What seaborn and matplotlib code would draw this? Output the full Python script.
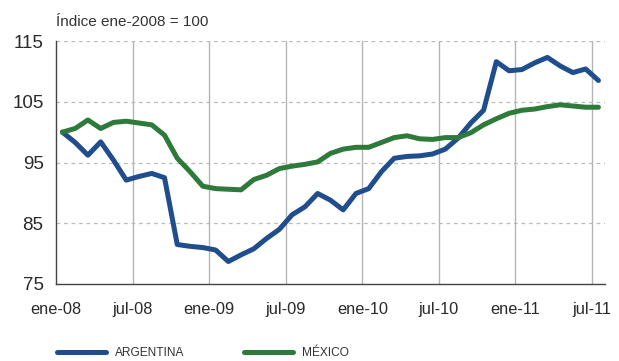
import pandas as pd
import numpy as np
import matplotlib
matplotlib.use("Agg")
import matplotlib.pyplot as plt
import seaborn as sns

# monthly index, ene-2008 = 100 (ene-08 .. jul-11)
argentina = [100.0, 98.3, 96.2, 98.4, 95.4, 92.1, 92.7, 93.2, 92.5, 81.5, 81.2, 81.0,
             80.6, 78.7, 79.8, 80.8, 82.5, 84.0, 86.4, 87.7, 89.9, 88.8, 87.2, 89.9,
             90.7, 93.5, 95.7, 96.0, 96.1, 96.4, 97.2, 99.0, 101.5, 103.6, 111.6, 110.1,
             110.3, 111.4, 112.3, 110.9, 109.8, 110.4, 108.5]
mexico = [100.0, 100.6, 102.0, 100.6, 101.6, 101.8, 101.5, 101.2, 99.5, 95.7, 93.5, 91.1,
          90.7, 90.6, 90.5, 92.2, 92.9, 94.0, 94.4, 94.7, 95.1, 96.5, 97.2, 97.5,
          97.5, 98.3, 99.1, 99.4, 98.9, 98.8, 99.1, 99.1, 99.9, 101.2, 102.2, 103.1,
          103.6, 103.8, 104.2, 104.5, 104.3, 104.1, 104.1]
tick_labels = ["ene-08", "jul-08", "ene-09", "jul-09", "ene-10", "jul-10", "ene-11", "jul-11"]
y_ticks = [75, 85, 95, 105, 115]

n = len(argentina)
df = pd.DataFrame({
    "mes": np.concatenate([np.arange(n) + 0.5, np.arange(n) + 0.5]),
    "valor": argentina + mexico,
    "pais": ["ARGENTINA"] * n + ["MÉXICO"] * n,
})

sns.set_style("white")
plt.rcParams["font.family"] = ["Liberation Sans", "DejaVu Sans"]

fig = plt.figure(figsize=(6.19, 3.61), dpi=100)
ax = fig.add_axes([0.0905, 0.2133, 0.8866, 0.6731])

palette = {"ARGENTINA": "#1f4d8e", "MÉXICO": "#2e7a3b"}
sns.lineplot(data=df, x="mes", y="valor", hue="pais", palette=palette,
             linewidth=3.6, ax=ax, legend=False)

ax.set_xlim(0, n)
ax.set_ylim(75, 115)
ax.set_xticks(np.arange(0, n, 6))
ax.set_xticklabels(tick_labels, fontsize=11.8, color="#2a2a2a")
ax.set_yticks(y_ticks)
ax.set_yticklabels([str(v) for v in y_ticks], fontsize=13.5, color="#2a2a2a")
ax.set_xlabel("")
ax.set_ylabel("")

# grid: dashed horizontal, solid vertical
for v in y_ticks[1:]:
    ax.axhline(v, color="#bbbbbb", linestyle=(0, (3, 3)), linewidth=0.9, zorder=0)
for xv in np.arange(6, n, 6):
    ax.axvline(xv, color="#b5b5b5", linewidth=1.0, zorder=0)

for s in ["top", "right"]:
    ax.spines[s].set_visible(False)
ax.spines["left"].set_color("#444444")
ax.spines["bottom"].set_color("#444444")
ax.spines["left"].set_linewidth(1.0)
ax.spines["bottom"].set_linewidth(1.0)
ax.tick_params(axis="y", direction="out", length=4, width=1, color="#444444", pad=5)
ax.tick_params(axis="x", direction="in", length=4, width=1, color="#444444", pad=13)

fig.text(0.0905, 0.94, "Índice ene-2008 = 100", fontsize=11, color="#333333", va="center")

handles = [plt.Line2D([], [], color=palette[k], linewidth=3.6) for k in palette]
fig.legend(handles, list(palette.keys()), loc="center left", bbox_to_anchor=(0.075, 0.022),
           ncol=2, frameon=False, fontsize=8.6, handlelength=4.1, handletextpad=0.75,
           columnspacing=5.0, labelcolor="#333333")

fig.savefig("out.png", dpi=100)
